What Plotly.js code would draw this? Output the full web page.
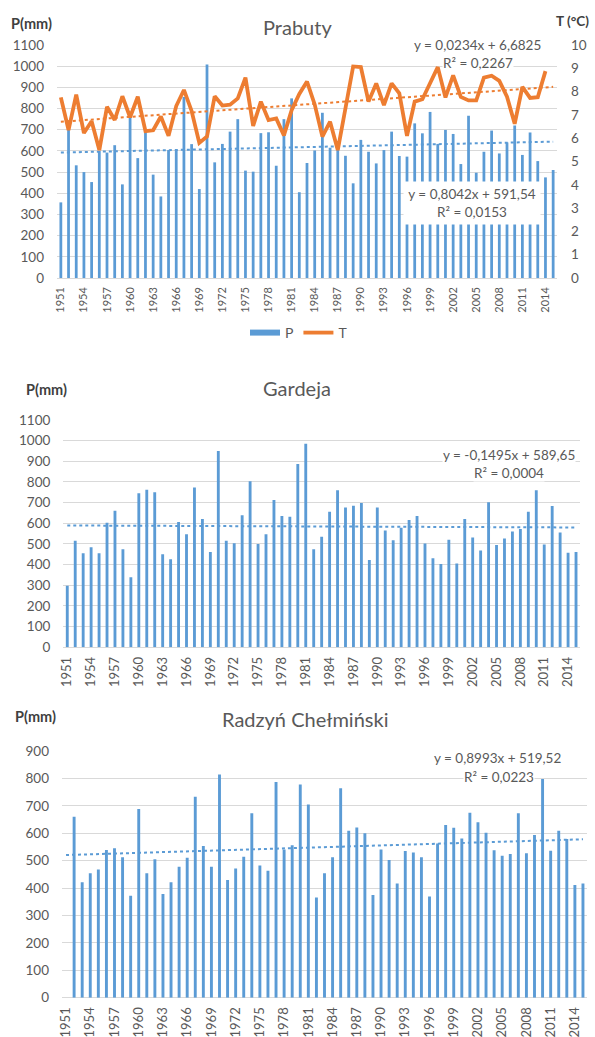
<!DOCTYPE html>
<html>
<head>
<meta charset="utf-8">
<script src="https://cdn.plot.ly/plotly-3.0.1.min.js"></script>
<style>html,body{margin:0;padding:0;background:#fff}#chart{width:595px;height:1037px}</style>
</head>
<body>
<div id="chart"></div>
<script>
// ---------------- DATA ----------------
const years = [1951,1952,1953,1954,1955,1956,1957,1958,1959,1960,1961,1962,1963,1964,1965,1966,1967,1968,1969,1970,
  1971,1972,1973,1974,1975,1976,1977,1978,1979,1980,1981,1982,1983,1984,1985,1986,1987,1988,1989,1990,
  1991,1992,1993,1994,1995,1996,1997,1998,1999,2000,2001,2002,2003,2004,2005,2006,2007,2008,2009,2010,
  2011,2012,2013,2014,2015];

const tickYears = [1951,1954,1957,1960,1963,1966,1969,1972,1975,1978,1981,1984,1987,1990,1993,1996,1999,2002,2005,2008,2011,2014];
const tickLabels = ["1951","1954","1957","1960","1963","1966","1969","1972","1975","1978","1981","1984","1987","1990","1993","1996","1999","2002","2005","2008","2011","2014"];

// Prabuty precipitation (mm), 1951-2015
const prabutyP = [357,705,532,500,453,600,592,627,442,757,566,690,488,385,604,605,855,632,420,1008,
  546,633,691,750,507,502,684,688,530,750,848,405,543,602,780,615,605,577,447,652,
  596,541,604,691,576,573,730,683,784,633,699,680,538,766,497,596,696,588,640,720,
  581,687,552,475,510];

// Prabuty mean annual temperature (°C), 1951-2014
const prabutyT = [7.75,6.35,7.87,6.22,6.73,5.49,7.35,6.78,7.80,6.90,7.78,6.30,6.34,6.93,6.10,7.38,8.07,7.17,5.80,6.07,
  7.80,7.40,7.44,7.71,8.60,6.53,7.57,6.78,6.85,6.12,7.20,7.90,8.43,7.45,6.07,6.71,5.49,7.40,9.08,9.05,
  7.57,8.35,7.42,8.35,7.93,6.10,7.57,7.67,8.40,9.05,7.75,8.70,7.77,7.62,7.62,8.60,8.68,8.46,7.78,6.62,
  8.20,7.73,7.76,8.88];

// Gardeja precipitation (mm), 1951-2015
const gardejaP = [298,516,455,484,455,603,661,474,339,745,763,750,450,426,606,547,773,621,461,950,
  516,503,639,803,500,547,713,635,632,887,985,474,535,656,760,676,685,698,423,676,
  565,518,579,616,635,502,431,403,521,406,621,531,468,702,495,527,560,573,656,760,
  498,684,556,458,461];

// Radzyń Chełmiński precipitation (mm), 1951 (no data) - 2015
const radzynP = [null,660,421,454,468,539,545,512,372,688,454,505,378,421,478,511,733,553,478,814,
  429,471,514,673,482,463,787,541,556,778,705,366,454,512,764,609,621,600,375,541,
  502,417,535,530,512,369,563,630,620,581,675,640,602,538,518,524,673,527,594,798,
  536,609,579,411,417];

// Linear trend equations shown on the chart: [slope, intercept], x = 1..n
const trendPrabutyP = [0.8042, 591.54];
const trendPrabutyT = [0.0234, 6.6825];
const trendGardejaP = [-0.1495, 589.65];
const trendRadzynP  = [0.8993, 519.52];

// ---------------- STYLE / LAYOUT ----------------
const W = 595, H = 1037;
const BLUE = '#5B9BD5', ORANGE = '#ED7D31', GRID = '#D9D9D9', TXT = '#595959';
const FONT = 'Lato, "Open Sans", sans-serif';
const xd = (l, r) => [l / W, r / W];
const yd = (t, b) => [1 - b / H, 1 - t / H];
const px = v => v / W, py = v => 1 - v / H;
const trend = (c) => years.map((_, i) => c[0] * (i + 1) + c[1]);

const barW = 0.36;
const traces = [
  {type:'bar', x:years, y:prabutyP, xaxis:'x', yaxis:'y', marker:{color:BLUE}, width:barW, showlegend:false, name:'P'},
  {type:'scatter', mode:'lines', x:years, y:trend(trendPrabutyP), xaxis:'x', yaxis:'y',
   line:{color:BLUE, width:2, dash:'dot'}, showlegend:false, hoverinfo:'skip'},
  {type:'scatter', mode:'lines', x:years.slice(0, prabutyT.length), y:prabutyT, xaxis:'x', yaxis:'y2',
   line:{color:ORANGE, width:3.8}, showlegend:false, name:'T'},
  {type:'scatter', mode:'lines', x:years, y:trend(trendPrabutyT), xaxis:'x', yaxis:'y2',
   line:{color:ORANGE, width:2, dash:'dot'}, showlegend:false, hoverinfo:'skip'},
  // legend entries
  {type:'scatter', mode:'lines', x:[null], y:[null], xaxis:'x', yaxis:'y', name:'P', line:{color:BLUE, width:6}},
  {type:'scatter', mode:'lines', x:[null], y:[null], xaxis:'x', yaxis:'y', name:'T', line:{color:ORANGE, width:3.8}},

  {type:'bar', x:years, y:gardejaP, xaxis:'x2', yaxis:'y3', marker:{color:BLUE}, width:barW, showlegend:false},
  {type:'scatter', mode:'lines', x:years, y:trend(trendGardejaP), xaxis:'x2', yaxis:'y3',
   line:{color:BLUE, width:2, dash:'dot'}, showlegend:false, hoverinfo:'skip'},

  {type:'bar', x:years, y:radzynP, xaxis:'x3', yaxis:'y4', marker:{color:BLUE}, width:barW, showlegend:false},
  {type:'scatter', mode:'lines', x:years, y:trend(trendRadzynP), xaxis:'x3', yaxis:'y4',
   line:{color:BLUE, width:2, dash:'dot'}, showlegend:false, hoverinfo:'skip'}
];

const xCommon = (dom, anchor, fs) => ({
  domain: dom, anchor: anchor, range:[1950.5, 2015.5], tickmode:'array', tickvals:tickYears, ticktext:tickLabels,
  tickangle:-90, showgrid:false, zeroline:false, showline:false, ticks:'', ticklabelstandoff:6,
  tickfont:{family:FONT, size:fs, color:TXT}, fixedrange:true
});
const yCommon = (dom, anchor, max, dt) => ({
  domain: dom, anchor: anchor, range:[0, max], tick0:0, dtick:dt, showgrid:true, gridcolor:GRID, gridwidth:1,
  zeroline:true, zerolinecolor:GRID, zerolinewidth:1, showline:false, ticks:'', ticklabelstandoff:12,
  tickfont:{family:FONT, size:13.5, color:TXT}, fixedrange:true
});

const ann = (text, x, y, size, opts) => Object.assign({
  text: text, xref:'paper', yref:'paper', x: px(x), y: py(y), xanchor:'center', yanchor:'middle',
  showarrow:false, font:{family:FONT, size:size, color:TXT}
}, opts || {});
const lab = (text, x, y) => ann(text, x, y, 13.5, {bgcolor:'#fff', borderpad:0});

const layout = {
  width: W, height: H, margin:{l:0, r:0, t:0, b:0, pad:0},
  paper_bgcolor:'#fff', plot_bgcolor:'rgba(0,0,0,0)',
  font:{family:FONT, color:TXT},
  barmode:'overlay',
  xaxis: xCommon(xd(57, 557), 'y', 11),
  yaxis: yCommon(yd(45, 278), 'x', 1100, 100),
  yaxis2: {overlaying:'y', anchor:'x', side:'right', range:[0, 10], tick0:0, dtick:1, showgrid:false, zeroline:false,
           ticks:'', ticklabelstandoff:13, tickfont:{family:FONT, size:13.5, color:TXT}, fixedrange:true},
  xaxis2: xCommon(xd(63.3, 580), 'y3', 13),
  yaxis3: yCommon(yd(420, 647.3), 'x2', 1100, 100),
  xaxis3: xCommon(xd(62, 587), 'y4', 13),
  yaxis4: yCommon(yd(751, 997.7), 'x3', 900, 100),
  showlegend: true,
  legend: {orientation:'h', x: px(299), xanchor:'center', y: py(333), yanchor:'middle',
           font:{family:FONT, size:14, color:TXT}, bgcolor:'rgba(0,0,0,0)', itemwidth:30, traceorder:'normal'},
  annotations: [
    ann('Prabuty', 297, 27, 20),
    ann('Gardeja', 297, 388, 20),
    ann('Radzyń Chełmiński', 305, 719, 20),
    ann('<b>P(mm)</b>', 31, 24, 14.5, {font:{family:FONT, size:14.5, color:'#404040'}}),
    ann('<b>P(mm)</b>', 46, 389, 14.5, {font:{family:FONT, size:14.5, color:'#404040'}}),
    ann('<b>P(mm)</b>', 35, 716, 14.5, {font:{family:FONT, size:14.5, color:'#404040'}}),
    ann('<b>T (°C)</b>', 572, 21, 13.5, {font:{family:FONT, size:13.5, color:'#404040'}}),
    lab('y = 0,0234x + 6,6825', 477, 45),
    lab('R² = 0,2267', 478, 63),
    ann('y = 0,8042x + 591,54<br>R² = 0,0153', 472, 203, 13.5, {bgcolor:'#fff', borderpad:0, width:136, height:42}),
    lab('y = -0,1495x + 589,65', 509, 455),
    lab('R² = 0,0004', 509, 473),
    lab('y = 0,8993x + 519,52', 497, 758),
    lab('R² = 0,0223', 499, 777)
  ]
};

Plotly.newPlot('chart', traces, layout, {staticPlot:true, displayModeBar:false});
</script>
</body>
</html>
